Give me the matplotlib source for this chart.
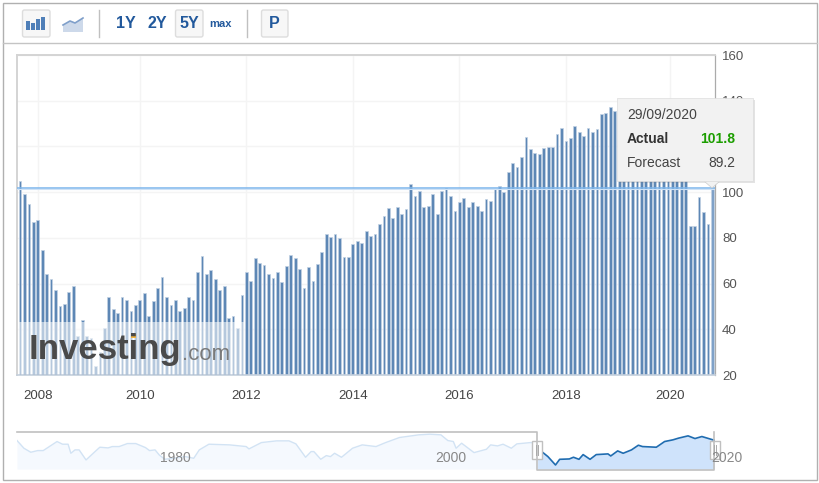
from matplotlib import pyplot as plt
from matplotlib.patches import Rectangle, Polygon, FancyBboxPatch
import numpy as np

plt.rcParams['font.family'] = ['Liberation Sans', 'DejaVu Sans']

# monthly bars, left to right (Sep 2007 .. Sep 2020)
values = [105, 99, 94.7, 87, 87.6, 74.5, 64, 62, 57, 50, 51.2, 56.2, 58.8, 37, 44, 37, 36.4, 24, 30, 40.5,
          54, 49, 47, 54, 53, 48, 50.5, 53, 56, 46, 52.5, 58, 63, 54, 50.8, 53, 48, 49.5, 54, 53,
          65, 72, 64, 66, 62, 57, 59, 45, 46, 40.5, 55, 65,
          61.3, 71, 68.9, 68.3, 64, 62.3, 65, 60.7, 67.9, 72.7, 71, 66.2, 58, 67.3, 61.3, 68.4, 73.8, 81.6,
          80.4, 81.6, 79.8, 71.6, 71.6, 77.2, 78.8, 77.8, 83.2, 81, 81.6, 85.9, 89.7, 93.1, 88.7, 93.5,
          90.3, 92.5, 103.4, 98.5, 100.7, 93.5, 94.1, 99, 90.3, 100.7, 101.7, 98.5, 91.9, 95.7, 97.3, 93.5,
          95.7, 94.1,
          91.9, 96.9, 96.3, 101.2, 102.9, 100, 108.8, 112.6, 111, 115.4, 124.1, 118.7, 117.1, 116.6, 119.2,
          119.8, 119.8, 125.3, 128.1, 122.5, 123.7, 129.1, 126.3, 124.7, 128.1, 126.3, 127.5, 134, 134.5,
          137.3, 135.7,
          # these sit behind the tooltip, guessed
          131, 133, 130, 128, 132, 129, 127, 131, 126, 124, 128, 125, 122, 119, 115, 108,
          85.4, 85.4, 97.9, 91.3, 85.9, 101.8]

year_labels = ['2008', '2010', '2012', '2014', '2016', '2018', '2020']
year_pos = [4, 27, 51, 75, 99, 123, 146.5]
y_ticks = [20, 40, 60, 80, 100, 120, 140, 160]
current = 101.8
forecast = 89.2

# navigator line
nav_years = [1968.6, 1969.1, 1969.6, 1970.1, 1970.5, 1971.5, 1971.9, 1972.3, 1972.5, 1972.8, 1973.1, 1973.6,
             1974.2, 1974.6, 1975.2, 1975.5, 1976.0, 1976.6, 1977.2, 1977.9, 1978.2, 1978.6, 1978.9, 1979.3,
             1979.9, 1980.8, 1981.4, 1981.8, 1982.5, 1984.0, 1985.2, 1985.4, 1986.3, 1987.4, 1988.3, 1988.8,
             1989.5, 1989.9, 1990.1, 1990.6, 1991.0, 1991.3, 1991.6, 1992.1, 1992.9, 1993.6, 1994.6, 1995.3,
             1996.3, 1997.7, 1998.5, 1999.3, 1999.8, 2000.2, 2000.4, 2000.8, 2001.7, 2002.6, 2002.9, 2003.4,
             2003.8, 2004.4, 2004.8, 2005.8, 2006.3]
nav_vals = [118.9, 89, 73.4, 79.9, 79.9, 115, 104.6, 104.6, 69.5, 82.5, 82.5, 43.5,
            73.4, 92.9, 90.3, 95.5, 95.5, 107.2, 107.2, 91.6, 79.9, 82.5, 63, 46.1,
            50, 56.5, 50, 82.5, 104.6, 102, 95.5, 86.4, 111, 117.6, 117.6, 105.9,
            53.9, 76, 76, 46.1, 60.4, 56.5, 69.5, 53.9, 89, 102, 95.5, 111,
            130.6, 141, 143.5, 141, 118.9, 115, 89, 108.5, 72, 85, 102, 98,
            104.6, 89, 105.9, 111, 108.5]
sel_years = [2006.3, 2006.6, 2007.05, 2007.6, 2007.9, 2008.6, 2008.9, 2009.3, 2009.6, 2010.1, 2010.55, 2011.4,
             2011.6, 2012.1, 2012.5, 2013.1, 2013.6, 2013.9, 2014.9, 2015.5, 2016.1, 2016.5, 2017.2, 2017.7,
             2018.2, 2018.6, 2019.1]
sel_vals = [108.5, 76, 56.5, 24, 46, 47.4, 54, 46, 64.3, 46, 64.3, 67,
            59, 78.6, 69.5, 82.5, 100.7, 95.5, 92.9, 115, 121.5, 128, 137, 126.6,
            134.4, 128, 120]
nav_labels = ['1980', '2000', '2020']
nav_pos = [1980, 2000, 2020]

W, H = 820, 483


def px_axes(fig, x0, y0, x1, y1, **kw):
    # axes placed by pixel box, y measured from the top
    return fig.add_axes([x0 / W, 1 - y1 / H, (x1 - x0) / W, (y1 - y0) / H], **kw)


fig = plt.figure(figsize=(W / 100, H / 100), dpi=100, facecolor='white')

# main chart
ax = px_axes(fig, 17, 55, 715, 375)
idx = np.arange(len(values))
colors = ['#5d87b5'] * (len(values) - 1) + ['#7fa1c8']
ax.bar(idx, values, width=0.62, bottom=0, color=colors, edgecolor='#c3d2e4', linewidth=0.5, zorder=2)
ax.set_xlim(-0.68, 156.6)
ax.set_ylim(20, 160)
ax.set_yticks(y_ticks)
ax.yaxis.tick_right()
ax.set_xticks(year_pos)
ax.set_xticklabels(year_labels)
ax.grid(True, color='#f4f4f4', linewidth=1, zorder=0)
ax.set_axisbelow(True)
ax.tick_params(axis='y', length=0, labelcolor='#555555', labelsize=9.5, pad=5)
ax.tick_params(axis='x', length=0, labelcolor='#444444', labelsize=9.5, pad=11)
for s in ['top', 'left']:
    ax.spines[s].set_color('#d4d4d4')
    ax.spines[s].set_linewidth(1.4)
ax.spines['right'].set_color('#ababab')
ax.spines['right'].set_linewidth(0.9)
ax.spines['bottom'].set_color('#c4cfdc')
ax.spines['bottom'].set_linewidth(1.2)
ax.axhline(current, color='#7cb5ec', linewidth=1.1, zorder=3)
ax.axhline(current - 0.55, color='#cfe2f6', linewidth=0.8, zorder=3)

# navigator
nav = px_axes(fig, 17, 432, 715, 469)
nav.set_xlim(1968.6, 2019.15)
nav.set_ylim(8.4, 152)
nav.fill_between(nav_years + [2006.3], [*nav_vals, sel_vals[0]], 8.4, color='#f5f9fe', linewidth=0)
nav.plot(nav_years, nav_vals, color='#d2e3f4', linewidth=1)
nav.fill_between(sel_years, sel_vals, 8.4, color='#cfe3fb', linewidth=0)
nav.plot(sel_years, sel_vals, color='#1f6cb0', linewidth=1.2)
nav.set_xticks([])
nav.set_yticks([])
for s in nav.spines.values():
    s.set_visible(False)
nav.patch.set_alpha(0)

# everything drawn in pixels over the charts
top = fig.add_axes([0, 0, 1, 1], zorder=10)
top.set_xlim(0, W)
top.set_ylim(H, 0)
top.axis('off')
top.patch.set_alpha(0)

top.add_patch(Rectangle((3, 3), 814, 477, fill=False, edgecolor='#b0b0b0', linewidth=1))
top.plot([3, 817], [42.5, 42.5], color='#c4c4c4', linewidth=1)

# toolbar buttons
for x0, x1 in [(22.5, 50), (175.5, 203), (261.5, 288)]:
    top.add_patch(FancyBboxPatch((x0 + 1, 11), x1 - x0 - 2, 25, boxstyle='round,pad=1,rounding_size=2',
                                 facecolor='#f7f7f7', edgecolor='#dddddd', linewidth=1))
for x in [99.5, 247.5]:
    top.plot([x, x], [10, 37], color='#c0c0c0', linewidth=1)
for x0, h in [(26, 9), (31.5, 7), (36.5, 11), (41.5, 13)]:
    top.add_patch(Rectangle((x0, 30 - h), 4, h, facecolor='#4f7fb8', edgecolor='none'))
top.add_patch(Polygon([(63, 25), (70, 21), (75, 23), (83, 18), (83, 32), (63, 32)],
                      facecolor='#cdd9ea', edgecolor='none'))
top.plot([63, 70, 75, 83], [25, 21, 23, 18], color='#7f9fca', linewidth=1.2)
for label, x, size in [('1Y', 125.5, 11.5), ('2Y', 157.5, 11.5), ('5Y', 189, 11.5), ('max', 221, 8), ('P', 274.5, 11.5)]:
    top.text(x, 24, label, ha='center', va='center', fontsize=size, fontweight='bold', color='#22599c')

# watermark, washes out the bars below it
top.add_patch(Rectangle((18, 322), 227, 52, facecolor='white', alpha=0.55, edgecolor='none'))
top.text(29, 350, 'Investing', ha='left', va='center', fontsize=25, fontweight='bold', color='#4a4a4a')
top.text(182, 354, '.com', ha='left', va='center', fontsize=16, color='#7a7a7a')
top.add_patch(Rectangle((131, 334), 5, 4, facecolor='#f2b544', edgecolor='none'))

# tooltip
top.add_patch(Rectangle((619, 100), 136, 83, facecolor='#777777', alpha=0.2, edgecolor='none'))
top.add_patch(Polygon([(704, 181), (712, 188), (720, 181)], facecolor='#f2f2f2', edgecolor='#cccccc', linewidth=0.5))
top.add_patch(Rectangle((617, 98), 136, 83, facecolor='#f2f2f2', edgecolor='#dddddd', linewidth=0.5))
top.text(627, 115, '29/09/2020', ha='left', va='center', fontsize=10, color='#444444')
top.text(627, 139, 'Actual', ha='left', va='center', fontsize=10, fontweight='bold', color='#333333')
top.text(735, 139, str(current), ha='right', va='center', fontsize=10, fontweight='bold', color='#1c9e00')
top.text(627, 163, 'Forecast', ha='left', va='center', fontsize=10, color='#444444')
top.text(735, 163, str(forecast), ha='right', va='center', fontsize=10, color='#444444')

# navigator frame, handles and labels
top.plot([17, 537.5, 537.5, 714.5, 714.5], [431.5, 431.5, 469.5, 469.5, 431.5], color='#c0c0c0', linewidth=1.2)
for x in [537, 715]:
    top.add_patch(Rectangle((x - 5, 441), 10, 18, facecolor='white', edgecolor='#c0c0c0', linewidth=1))
    top.plot([x - 1, x - 1], [445, 455], color='#aaaaaa', linewidth=0.7)
    top.plot([x + 1, x + 1], [445, 455], color='#aaaaaa', linewidth=0.7)
for label, yr in zip(nav_labels, nav_pos):
    top.text(175 + (yr - 1980) * 13.8, 458, label, ha='center', va='center', fontsize=10, color='#888888')

fig.savefig('out.png', dpi=100)
